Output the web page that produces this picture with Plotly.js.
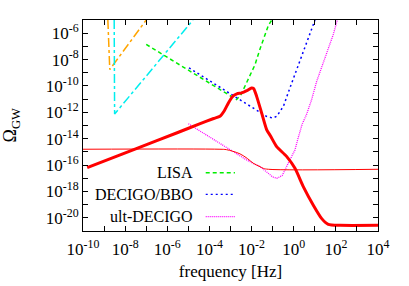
<!DOCTYPE html>
<html>
<head>
<meta charset="utf-8">
<script src="https://cdn.plot.ly/plotly-3.0.1.min.js"></script>
<style>html,body{margin:0;padding:0;background:#fff;}#chart{width:409px;height:286px;}</style>
</head>
<body>
<div id="chart"></div>
<script>
// values stored as log10 exponents
const redThickF = [-9.8, -7.5, -5.5, -4.5, -3.8, -3.5, -3.3, -3.1, -2.9, -2.7, -2.47, -2.23, -2.0, -1.9, -1.76, -1.52, -1.28, -1.1, -0.81, -0.33, 0.06, 0.46, 0.93, 1.33, 1.64, 2.2, 4.0];
const redThickO = [-16.2, -14.77, -13.53, -12.9, -12.47, -12.3, -11.9, -11.29, -10.8, -10.6, -10.53, -10.36, -10.15, -10.2, -10.79, -12.06, -13.33, -13.8, -14.6, -15.36, -16.25, -17.65, -19.04, -20.06, -20.49, -20.57, -20.57];

const redThinF = [-10, -3.5, -3.2, -2.9, -2.55, -2.2, -1.92, -1.6, -1.44, -1.2, 4];
const redThinO = [-14.8, -14.8, -14.83, -14.95, -15.15, -15.5, -15.86, -16.12, -16.25, -16.32, -16.32];

const lisaF = [-7.0, -2.71, -2.5, -2.3, -2.07, -1.84, -1.6, -1.4, -1.2, -1.04];
const lisaO = [-6.85, -11.04, -10.65, -10.0, -9.14, -8.4, -7.2, -6.3, -5.4, -5.0];

const bboF = [-4.97, -1.3, -1.0, -0.8, -0.65, -0.49, -0.18, 0.02, 0.3, 0.5, 0.69, 0.85, 1.01];
const bboO = [-8.63, -12.3, -12.44, -12.3, -11.93, -11.55, -10.15, -9.3, -8.12, -7.2, -6.34, -5.7, -5.0];

const ultF = [-5.0, -2.7, -2.3, -1.9, -1.6, -1.3, -1.0, -0.8, -0.55, -0.26, 0.06, 0.2, 0.4, 0.6, 0.85, 1.09, 1.3, 1.57, 1.88, 2.07];
const ultO = [-12.87, -15.2, -15.55, -15.9, -16.12, -16.5, -16.9, -17.0, -16.8, -15.86, -14.85, -14.0, -12.9, -12.2, -11.04, -9.65, -8.7, -7.5, -6.09, -5.0];

const orangeF = [-8.82, -8.73, -7.0];
const orangeO = [-5.0, -8.76, -5.0];

const cyanF = [-8.52, -8.5, -4.78];
const cyanO = [-5.0, -12.13, -5.0];

const xTickExp = [-10, -8, -6, -4, -2, 0, 2, 4];
const xMinorExp = [-9, -7, -5, -3, -1, 1, 3];
const yTickExp = [-20, -18, -16, -14, -12, -10, -8, -6];
const yMinorExp = [-21, -19, -17, -15, -13, -11, -9, -7, -5];

const legendNames = ["LISA", "DECIGO/BBO", "ult-DECIGO"];
const yTitle = "Ω<sub>GW</sub>";
const xTitle = "frequency [Hz]";

const p = a => a.map(v => Math.pow(10, v));
const lab = e => "10<sup>" + e + "</sup>";

const FONT = "Liberation Serif";

const traces = [
  {x: p(orangeF), y: p(orangeO), mode: "lines", line: {color: "#ffa500", width: 1.5, dash: "dashdot"}},
  {x: p(cyanF), y: p(cyanO), mode: "lines", line: {color: "#00eeee", width: 1.5, dash: "dashdot"}},
  {x: p(lisaF), y: p(lisaO), mode: "lines", line: {color: "#00ee00", width: 1.5, dash: "4px,3px"}},
  {x: p(bboF), y: p(bboO), mode: "lines", line: {color: "#0000ff", width: 1.5, dash: "2px,3px"}},
  {x: p(ultF), y: p(ultO), mode: "lines", line: {color: "#ff00ff", width: 1.3, dash: "1px,1px"}},
  {x: p(redThinF), y: p(redThinO), mode: "lines", line: {color: "#ff0000", width: 1, shape: "spline"}},
  {x: p(redThickF), y: p(redThickO), mode: "lines", line: {color: "#ff0000", width: 3, shape: "spline", smoothing: 0.6}}
];

const legColors = ["#00ee00", "#0000ff", "#ff00ff"];
const legDash = ["4px,3px", "2px,3px", "1px,1px"];
const legY = [0.276, 0.174, 0.068];

const annotations = legendNames.map((n, i) => ({
  xref: "paper", yref: "paper", x: 0.38, y: legY[i], xanchor: "right", yanchor: "middle",
  text: n, showarrow: false, font: {family: FONT, size: 16, color: "#000"}
}));
annotations.push({
  xref: "paper", yref: "paper", x: -0.241, y: 0.5, xanchor: "center", yanchor: "middle",
  text: yTitle, textangle: -90, showarrow: false, font: {family: FONT, size: 18, color: "#000"}
});
const shapes = legendNames.map((n, i) => ({
  type: "line", xref: "paper", yref: "paper", x0: 0.416, x1: 0.515, y0: legY[i], y1: legY[i],
  line: {color: legColors[i], width: 1.3, dash: legDash[i]}
}));

const minorSpec = vals => ({tickvals: p(vals), ticks: "inside", ticklen: 5, tickwidth: 1, tickcolor: "#000", showgrid: false});

const layout = {
  width: 409, height: 286,
  margin: {l: 83, r: 31, t: 20, b: 55},
  paper_bgcolor: "#fff", plot_bgcolor: "#fff",
  showlegend: false,
  font: {family: FONT, size: 16, color: "#000"},
  xaxis: {
    type: "log", range: [-10, 4],
    tickvals: p(xTickExp), ticktext: xTickExp.map(lab),
    ticks: "inside", ticklen: 5, tickwidth: 1, tickcolor: "#000",
    minor: minorSpec(xMinorExp),
    ticklabelstandoff: 3,
    tickfont: {family: FONT, size: 17, color: "#000"},
    showline: true, linecolor: "#000", linewidth: 1, mirror: "ticks",
    showgrid: false, zeroline: false,
    title: {text: xTitle, font: {family: FONT, size: 17, color: "#000"}, standoff: 6}
  },
  yaxis: {
    type: "log", range: [-21, -5],
    tickvals: p(yTickExp), ticktext: yTickExp.map(lab),
    ticks: "inside", ticklen: 5, tickwidth: 1, tickcolor: "#000",
    minor: minorSpec(yMinorExp),
    tickfont: {family: FONT, size: 17, color: "#000"},
    showline: true, linecolor: "#000", linewidth: 1, mirror: "ticks",
    showgrid: false, zeroline: false
  },
  annotations: annotations,
  shapes: shapes
};

Plotly.newPlot("chart", traces, layout, {displayModeBar: false, staticPlot: true});
</script>
</body>
</html>
